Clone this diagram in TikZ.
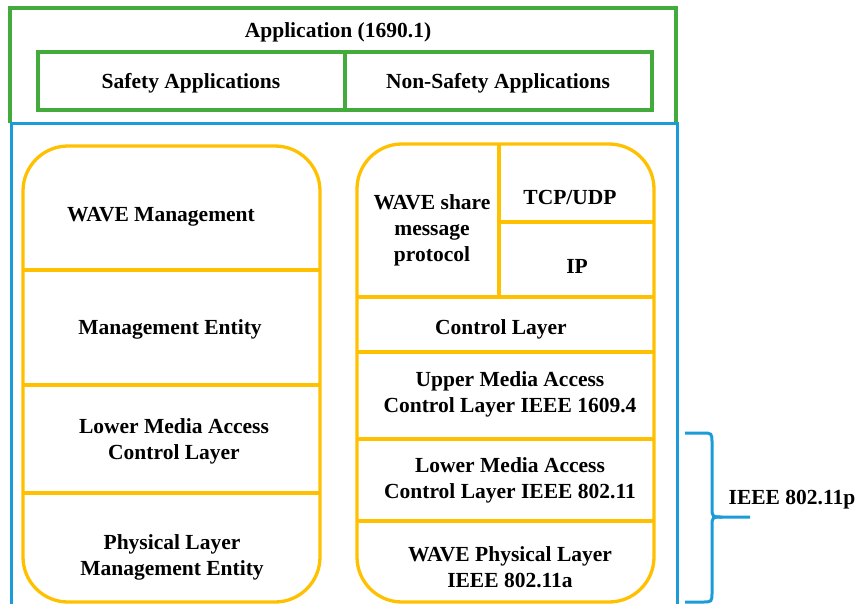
\documentclass[tikz,border=0pt]{standalone}
\usepackage{fontspec}
\setmainfont{Liberation Serif}
\definecolor{appgreen}{RGB}{67,170,60}
\definecolor{wblue}{RGB}{27,155,215}
\definecolor{wyellow}{RGB}{255,192,0}
\begin{document}
\begin{tikzpicture}[x=1pt,y=-1pt,
  lbl/.style={font=\fontsize{21.5}{26}\selectfont\bfseries, align=center, inner sep=0pt},
  gbox/.style={draw=appgreen, line width=3.3pt},
  bbox/.style={draw=wblue, line width=3pt},
  ybox/.style={draw=wyellow, line width=3.3pt, rounded corners=45pt},
  yline/.style={draw=wyellow, line width=3.3pt}]
\useasboundingbox (0,0) rectangle (858,603);
% application layer
\draw[gbox] (10,123) -- (10,8) -- (676,8) -- (676,123);
\draw[gbox] (38,52) rectangle (345,110);
\draw[gbox] (345,52) rectangle (652,110);
\node[lbl] (app) at (338,32) {Application (1690.1)};
\node[lbl] (safe) at (191,83) {Safety Applications};
\node[lbl] (nonsafe) at (498,83) {Non-Safety Applications};
% blue frame
\draw[bbox] (11,612) -- (11,123) -- (677,123) -- (677,612);
% left stack
\draw[ybox] (23,146) rectangle (320,602);
\draw[yline] (23,270) -- (320,270);
\draw[yline] (23,385) -- (320,385);
\draw[yline] (23,493) -- (320,493);
\node[lbl] (wm) at (161,217) {WAVE Management};
\node[lbl] (me) at (170,329) {Management Entity};
\node[lbl] (lmacl) at (174,441) {Lower Media Access\\Control Layer};
\node[lbl] (plme) at (172,557) {Physical Layer\\Management Entity};
% right stack
\draw[ybox] (357,144) rectangle (654,602);
\draw[yline] (357,297) -- (654,297);
\draw[yline] (357,352) -- (654,352);
\draw[yline] (357,439) -- (654,439);
\draw[yline] (357,521) -- (654,521);
\draw[yline] (499,144) -- (499,297);
\draw[yline] (499,222) -- (654,222);
\node[lbl] (wsmp) at (432,230) {WAVE share\\message\\protocol};
\node[lbl] (tcp) at (570,197) {TCP/UDP};
\node[lbl] (ip) at (577,266) {IP};
\node[lbl] (cl) at (501,329) {Control Layer};
\node[lbl] (umac) at (510,394) {Upper Media Access\\Control Layer IEEE 1609.4};
\node[lbl] (lmac) at (510,480) {Lower Media Access\\Control Layer IEEE 802.11};
\node[lbl] (phy) at (510,567) {WAVE Physical Layer\\IEEE 802.11a};
% brace
\coordinate (btop) at (685,433);
\coordinate (bbot) at (685,602);
\coordinate (btip) at (750,517);
\draw[wblue, line width=3pt] (btop) -- (702,433) .. controls (712,433) .. (712,443) -- (712,507) .. controls (712,517) .. (722,517) -- (btip);
\draw[wblue, line width=3pt] (722,517) .. controls (712,517) .. (712,527) -- (712,592) .. controls (712,602) .. (702,602) -- (bbot);
\node[lbl] (p80211p) at (792,500) {IEEE 802.11p};
\end{tikzpicture}
\end{document}
